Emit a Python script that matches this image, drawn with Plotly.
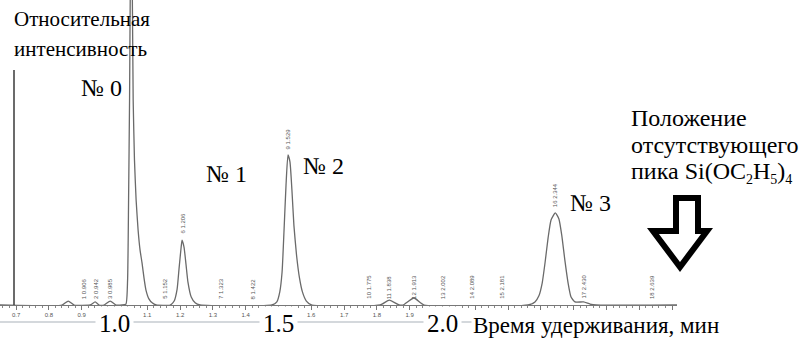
import plotly.graph_objects as go

W, H = 810, 338

# Chromatogram trace: retention time (min) and relative intensity (% of axis height)
time_min = [0.650, 0.840, 0.859, 0.877, 0.926, 0.941, 0.953, 0.968, 0.987, 1.005,
            1.023, 1.035, 1.040, 1.043, 1.046, 1.048, 1.051, 1.054, 1.057, 1.061,
            1.066, 1.072, 1.078, 1.084, 1.090, 1.096, 1.105, 1.115, 1.127,
            1.170, 1.182, 1.191, 1.197, 1.203, 1.206, 1.212, 1.218, 1.224, 1.234,
            1.246, 1.261,
            1.480, 1.495, 1.504, 1.511, 1.517, 1.523, 1.529, 1.535, 1.541, 1.547,
            1.555, 1.564, 1.573, 1.585, 1.602,
            1.810, 1.838, 1.868, 1.880, 1.913, 1.944,
            2.261, 2.282, 2.294, 2.304, 2.313, 2.322, 2.331, 2.344, 2.355, 2.364,
            2.373, 2.383, 2.392, 2.404, 2.430, 2.450, 2.468, 2.715]
intensity = [0.0, 0.0, 1.3, 0.0, 0.0, 1.0, 0.0, 0.0, 1.3, 0.0,
             0.0, 0.3, 8.2, 34.4, 67.2, 100.0, 120.0, 106.6, 67.2, 47.5,
             34.4, 24.6, 18.0, 13.8, 8.9, 4.9, 2.0, 0.7, 0.0,
             0.0, 1.3, 5.2, 12.1, 18.7, 21.3, 19.0, 13.4, 7.5, 2.6,
             0.7, 0.0,
             0.0, 1.0, 4.3, 10.8, 24.6, 39.3, 49.2, 46.9, 37.7, 26.2,
             16.4, 8.9, 4.3, 1.3, 0.0,
             0.0, 1.6, 0.0, 0.0, 2.3, 0.0,
             0.0, 1.0, 3.0, 7.2, 14.1, 22.0, 27.9, 30.2, 28.2, 22.6,
             14.8, 7.2, 2.6, 1.0, 1.0, 0.3, 0.0, 0.0]

# Integrator peak marks: number, retention time, intensity at the apex
peak_no = [1, 2, 3, 5, 6, 7, 8, 9, 10, 11, 12, 13, 14, 15, 16, 17, 18]
peak_rt = [0.906, 0.942, 0.985, 1.152, 1.206, 1.323, 1.422, 1.529, 1.775, 1.838,
           1.913, 2.002, 2.089, 2.181, 2.344, 2.430, 2.639]
peak_top = [0.0, 0.0, 0.0, 0.0, 21.3, 0.0, 0.0, 49.2, 0.0, 0.0,
            0.0, 0.0, 0.0, 0.0, 30.2, 0.0, 0.0]

# Named peaks
named = ["№ 0", "№ 1", "№ 2", "№ 3"]

# Axis ticks: labelled ones, and the ones whose labels are covered
label_vals = [0.7, 0.8, 0.9, 1.1, 1.2, 1.3, 1.4, 1.6, 1.7, 1.8, 1.9]
label_text = ["0.7", "0.8", "0.9", "1.1", "1.2", "1.3", "1.4", "1.6", "1.7", "1.8", "1.9"]
bare_vals = [1.0, 1.5, 2.0, 2.1, 2.2, 2.3, 2.4, 2.5, 2.6, 2.7]
big_ticks = [1.0, 1.5, 2.0]

SERIF = "Liberation Serif, Times New Roman, serif"
SANS = "Liberation Sans, Arial, sans-serif"


def px(x):
    return x / W


def py(y):
    return 1 - y / H


def sub(s):
    return f"<sub><span style='font-size:14px'>{s}</span></sub>"


fig = go.Figure()
fig.add_trace(go.Scatter(
    x=time_min, y=intensity, mode="lines",
    line=dict(color="#6a6a6a", width=1.3, shape="spline", smoothing=0.5),
    hoverinfo="skip", showlegend=False,
))
# invisible trace so the second axis carrying the bare ticks is drawn
fig.add_trace(go.Scatter(x=[0.7], y=[0], xaxis="x2", mode="markers",
                         marker=dict(opacity=0), hoverinfo="skip", showlegend=False))

annotations = []
for n, rt, top in zip(peak_no, peak_rt, peak_top):
    annotations.append(dict(
        x=rt, y=top, xref="x", yref="y", text=f"{n} {rt:.3f}",
        textangle=-90, showarrow=False, xanchor="center", yanchor="bottom",
        yshift=4, font=dict(family=SANS, size=6, color="#555"),
    ))

# Peak numbers
for txt, (x, y) in zip(named, [(101, 88), (227, 174), (323, 166), (590, 203)]):
    annotations.append(dict(x=px(x), y=py(y), xref="paper", yref="paper", text=txt,
                            showarrow=False, xanchor="center", yanchor="middle",
                            font=dict(family=SERIF, size=24, color="black")))

# Large axis numbers over the small ones
for v in big_ticks:
    annotations.append(dict(x=v, y=py(323), xref="x", yref="paper", text=f"{v:.1f}",
                            showarrow=False, xanchor="center", yanchor="middle",
                            bgcolor="white", borderpad=3,
                            font=dict(family=SERIF, size=25, color="black")))

annotations.append(dict(x=px(471), y=py(325), xref="paper", yref="paper",
                        text="Время удерживания, мин", showarrow=False,
                        xanchor="left", yanchor="middle", bgcolor="white", borderpad=1,
                        font=dict(family=SERIF, size=23, color="black")))

for txt, y in [("Относительная", 19), ("интенсивность", 49)]:
    annotations.append(dict(x=px(12), y=py(y), xref="paper", yref="paper", text=txt,
                            showarrow=False, xanchor="left", yanchor="middle",
                            font=dict(family=SERIF, size=21, color="black")))

for txt, y in [("Положение", 118), ("отсутствующего", 145),
               (f"пика Si(OC{sub(2)}H{sub(5)}){sub(4)}", 172)]:
    annotations.append(dict(x=px(629), y=py(y), xref="paper", yref="paper", text=txt,
                            showarrow=False, xanchor="left", yanchor="middle",
                            font=dict(family=SERIF, size=24, color="black")))

# Hollow arrow pointing at the expected position
arrow_pts = [(676, 198), (698, 198), (698, 231), (707, 231), (680, 267),
             (653, 231), (676, 231)]
arrow_path = "M " + " L ".join(f"{px(x):.5f},{py(y):.5f}" for x, y in arrow_pts) + " Z"

shapes = [
    dict(type="line", xref="paper", yref="paper", x0=px(0), x1=px(677),
         y0=py(322), y1=py(322), line=dict(color="#a9b1ba", width=1.2)),
    dict(type="line", xref="paper", yref="paper", x0=px(14), x1=px(14),
         y0=py(70), y1=py(305), line=dict(color="#3a3a3a", width=1.5)),
    dict(type="path", xref="paper", yref="paper", path=arrow_path,
         line=dict(color="black", width=6), fillcolor="rgba(0,0,0,0)"),
]

x_common = dict(domain=[0, px(677)], range=[0.651, 2.715], showgrid=False,
                zeroline=False, ticks="outside", ticklen=4, tickcolor="#777",
                tickwidth=1)

fig.update_layout(
    width=W, height=H, margin=dict(l=0, r=0, t=0, b=0),
    paper_bgcolor="white", plot_bgcolor="white",
    annotations=annotations, shapes=shapes, showlegend=False,
    xaxis=dict(**x_common, showline=True, linecolor="#777", linewidth=1,
               tickvals=label_vals, ticktext=label_text,
               tickfont=dict(family=SANS, size=6, color="#555"),
               minor=dict(dtick=0.02, tick0=0, ticks="outside", ticklen=2,
                          tickcolor="#888", showgrid=False)),
    xaxis2=dict(**x_common, overlaying="x", anchor="y", side="bottom",
                showline=False, tickvals=bare_vals, showticklabels=False),
    yaxis=dict(domain=[py(305), 1], range=[0, 100], visible=False),
)

fig.write_html("out.html")
